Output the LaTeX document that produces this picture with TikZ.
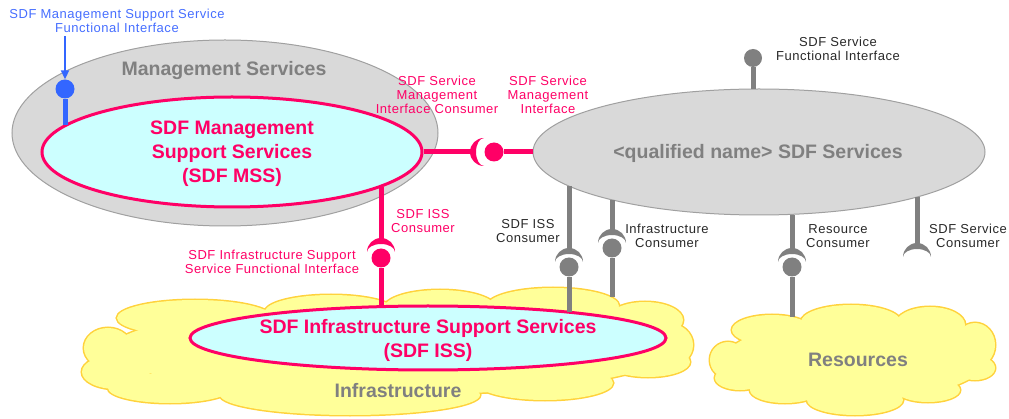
\documentclass[tikz,border=0pt]{standalone}
\usepackage{fontspec}
\setmainfont{Liberation Sans}
\newfontfamily\lblfont[LetterSpace=4]{Liberation Sans}
\usetikzlibrary{shapes.geometric,arrows.meta}

\definecolor{pinkc}{RGB}{255,0,102}
\definecolor{greyfill}{RGB}{217,217,217}
\definecolor{greyedge}{RGB}{160,160,160}
\definecolor{conngrey}{RGB}{128,128,128}
\definecolor{titlegrey}{RGB}{128,128,128}
\definecolor{labelgrey}{RGB}{40,40,40}
\definecolor{cyanfill}{RGB}{204,255,255}
\definecolor{cloudfill}{RGB}{255,255,153}
\definecolor{cloudedge}{RGB}{255,210,60}
\definecolor{ifaceblue}{RGB}{51,102,255}
\definecolor{textblue}{RGB}{70,110,255}

% puffs of the two clouds: centre x / centre y / x radius / y radius
\def\infrapuffs{390/350/280/45, 195/318/78/18, 331/312/66/17, 440/308/56/18,
  553/306/66/18, 645/320/38/18, 668/345/25/22, 108/348/24/20, 116/372/34/17,
  170/388/62/15, 350/395/130/20, 545/383/68/17, 648/362/42/15}
\def\respuffs{855/360/130/40, 772/330/40/15, 851/322/50/17, 930/325/35/18,
  975/345/20/22, 728/360/18/18, 740/378/25/12, 785/390/35/13, 855/400/48/15,
  928/390/32/12, 975/368/20/12}

\tikzset{
  lbl/.style={font=\lblfont\fontsize{13}{14}\selectfont, align=center, inner sep=0pt},
  title/.style={font=\fontsize{19.5}{24}\selectfont\bfseries, align=center, inner sep=0pt},
  greyell/.style={ellipse, inner sep=0pt, fill=greyfill, draw=greyedge, line width=1pt},
  pinkell/.style={ellipse, inner sep=0pt, fill=cyanfill, draw=pinkc, line width=3pt},
  ball/.style={circle, fill=#1, inner sep=0pt, minimum size=19pt},
  pline/.style={draw=pinkc, line width=5pt},
  gline/.style={draw=conngrey, line width=5pt},
  bline/.style={draw=ifaceblue, line width=5pt},
  socket/.pic={
    \fill (-14pt,0pt) arc[start angle=180, end angle=0, radius=14pt]
          arc[start angle=0, end angle=180, x radius=14pt, y radius=8pt] -- cycle;
    \coordinate (-top) at (0pt,13pt);
  }
}

\begin{document}
\begin{tikzpicture}[x=1pt, y=-1pt]
\useasboundingbox (0,0) rectangle (1009,419);

% clouds: outline first, then the fill hides the inner edges
\foreach \cx/\cy/\rx/\ry in \infrapuffs
  \draw[cloudedge, line width=3pt] (\cx,\cy) ellipse[x radius=\rx, y radius=\ry];
\foreach \cx/\cy/\rx/\ry in \respuffs
  \draw[cloudedge, line width=3pt] (\cx,\cy) ellipse[x radius=\rx, y radius=\ry];
\foreach \cx/\cy/\rx/\ry in \infrapuffs
  \fill[cloudfill] (\cx,\cy) ellipse[x radius=\rx, y radius=\ry];
\foreach \cx/\cy/\rx/\ry in \respuffs
  \fill[cloudfill] (\cx,\cy) ellipse[x radius=\rx, y radius=\ry];

% service ellipses
\node[greyell, minimum width=426pt, minimum height=186pt] (mgmt) at (225,133) {};
\node[pinkell, minimum width=380pt, minimum height=110pt] (mss) at (232,152) {};
\node[greyell, minimum width=452pt, minimum height=126pt] (ssvc) at (759,152) {};
\node[pinkell, minimum width=476pt, minimum height=64pt] (iss) at (428,338) {};

% titles
\node[title, titlegrey] (mgmtT) at (224,71) {Management Services};
\node[title, pinkc] (mssT) at (232,154) {SDF Management\\Support Services\\(SDF MSS)};
\node[title, titlegrey] (ssvcT) at (758,153) {<qualified name> SDF Services};
\node[title, pinkc] (issT) at (428,340) {SDF Infrastructure Support Services\\(SDF ISS)};
\node[title, titlegrey] (infraT) at (398,391) {Infrastructure};
\node[title, titlegrey] (resT) at (858,360) {Resources};

% interface labels
\node[lbl, textblue] (bLbl) at (117,21) {SDF Management Support Service\\Functional Interface};
\node[lbl, pinkc] (mgmtConsL) at (437,95) {SDF Service\\Management\\Interface Consumer};
\node[lbl, pinkc] (mgmtIfL) at (548,95) {SDF Service\\Management\\Interface};
\node[lbl, pinkc] (issConsL) at (423,221) {SDF ISS\\Consumer};
\node[lbl, pinkc] (issIfL) at (272,262) {SDF Infrastructure Support\\Service Functional Interface};
\node[lbl, labelgrey] (gIssL) at (528,231) {SDF ISS\\Consumer};
\node[lbl, labelgrey] (gInfL) at (667,236) {Infrastructure\\Consumer};
\node[lbl, labelgrey] (gResL) at (838,236) {Resource\\Consumer};
\node[lbl, labelgrey] (gSvcL) at (968,236) {SDF Service\\Consumer};
\node[lbl, labelgrey] (gFuncL) at (838,49) {SDF Service\\Functional Interface};

% provided interfaces (balls)
\node[ball=ifaceblue] (bB) at (65,89) {};
\node[ball=pinkc] (pB1) at (494,152) {};
\node[ball=pinkc] (pB2) at (381,258) {};
\node[ball=conngrey] (gB1) at (569,267) {};
\node[ball=conngrey] (gB2) at (612,248) {};
\node[ball=conngrey] (gB3) at (792,267) {};
\node[ball=conngrey, minimum size=18pt] (gB4) at (753,58) {};

% required interfaces (sockets)
\pic[color=pinkc, rotate=90] (sH) at (484,152) {socket};
\pic[color=pinkc] (sV) at (381,252) {socket};
\pic[color=conngrey] (sA) at (569,262) {socket};
\pic[color=conngrey] (sB) at (612,243) {socket};
\pic[color=conngrey] (sC) at (792,262) {socket};
\pic[color=conngrey] (sD) at (917,257) {socket};

\coordinate (infTop) at (612,297);
\coordinate (resTop) at (792,317);

% connectors (vertical ones keep the x of their ball or socket)
\draw[bline] (bB) -- (bB |- mss.171.1);
\draw[ifaceblue, line width=2pt, shorten <=3pt, -{Triangle[width=8pt,length=9pt]}]
  (bLbl.south -| bB) -- (bB.north);
\draw[pline] (mss.east) -- (sH-top);
\draw[pline] (pB1) -- (ssvc.west);
\draw[pline] (sV-top |- mss.347.1) -- (sV-top);
\draw[pline] (pB2) -- (pB2 |- iss.146.3);
\draw[gline] (sA-top |- ssvc.190.2) -- (sA-top);
\draw[gline] (gB1) -- (gB1 |- iss.10.4);
\draw[gline] (sB-top |- ssvc.198) -- (sB-top);
\draw[gline] (gB2) -- (infTop);
\draw[gline] (sC-top |- ssvc.297.9) -- (sC-top);
\draw[gline] (gB3) -- (resTop);
\draw[gline] (sD-top |- ssvc.344.1) -- (sD-top);
\draw[gline] (gB4) -- (gB4 |- ssvc.95.4);
\end{tikzpicture}
\end{document}
